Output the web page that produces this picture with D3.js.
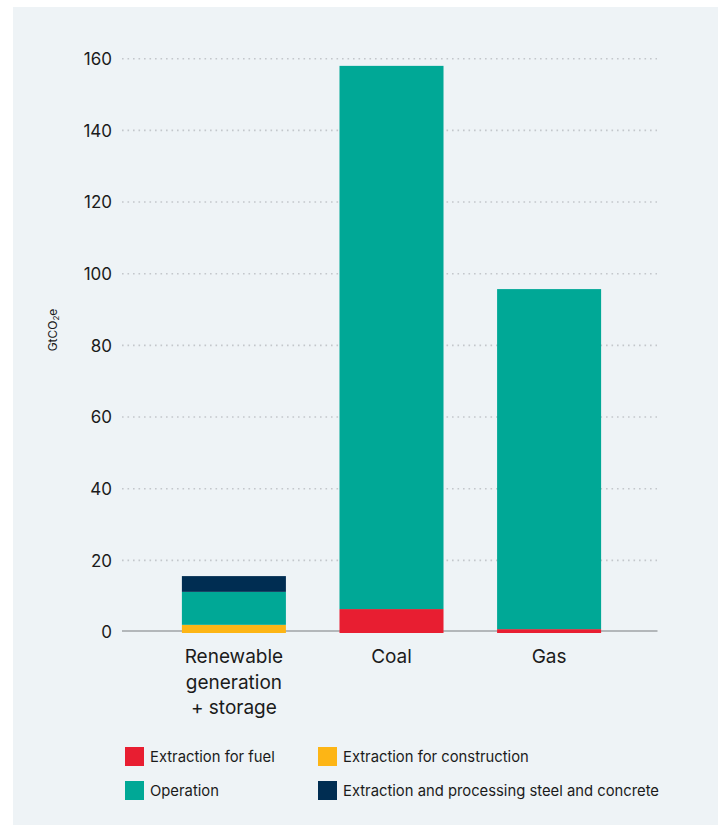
<!DOCTYPE html>
<html><head><meta charset="utf-8">
<script src="https://cdn.jsdelivr.net/npm/d3@7"></script>
<style>
html,body{margin:0;padding:0;background:#fff;}
svg{display:block;}
text{font-family:Inter, "Noto Sans", sans-serif;fill:#1b1b1b;}
</style></head><body>
<svg id="c" width="718" height="825"></svg>
<script>
const categories = ["Renewable generation + storage", "Coal", "Gas"];
const categoryLines = [["Renewable", "generation", "+ storage"], ["Coal"], ["Gas"]];
const seriesNames = ["Extraction for fuel", "Extraction for construction", "Operation", "Extraction and processing steel and concrete"];
const extractionFuel = [0, 6.4, 0.8];
const extractionConstruction = [2.0, 0, 0];
const operation = [9.2, 151.6, 94.9];
const steelConcrete = [4.4, 0, 0];
const yTicks = [0, 20, 40, 60, 80, 100, 120, 140, 160];
const colors = ["#e81e31", "#fdb515", "#00a896", "#002d52"];

const svg = d3.select("#c");
svg.append("rect").attr("x", 13).attr("y", 7).attr("width", 705).attr("height", 818).attr("fill", "#eef3f6");

const y = d3.scaleLinear().domain([0, 160]).range([632, 58.7]);
const x = d3.scaleBand().domain(categories).range([122, 661]).paddingInner(0.34).paddingOuter(0.38);

// gridlines
const grid = svg.append("g");
grid.selectAll("line").data(yTicks.filter(d => d > 0)).join("line")
  .attr("x1", 122).attr("x2", 657).attr("y1", d => y(d)).attr("y2", d => y(d))
  .attr("stroke", "#c3c7cb").attr("stroke-width", 1.6).attr("stroke-dasharray", "1.6,3.9").attr("stroke-linecap", "butt");

// y axis labels
const yAxis = d3.axisLeft(y).tickValues(yTicks).tickSize(0).tickPadding(0).tickFormat(d3.format("d"));
const ga = svg.append("g").attr("transform", "translate(112,0)").call(yAxis);
ga.select(".domain").remove();
ga.selectAll("text").attr("font-size", 17).attr("font-family", "Inter, sans-serif").attr("fill", "#1b1b1b").attr("dy", "0.35em");

// stacked data
const table = categories.map((c, i) => ({cat: c, s0: extractionFuel[i], s1: extractionConstruction[i], s2: operation[i], s3: steelConcrete[i]}));
const stack = d3.stack().keys(["s1", "s0", "s2", "s3"]);
const layers = stack(table);
const colorByKey = {s0: colors[0], s1: colors[1], s2: colors[2], s3: colors[3]};

// baseline
svg.append("line").attr("x1", 122).attr("x2", 657.5).attr("y1", 631).attr("y2", 631)
  .attr("stroke", "#b3b7ba").attr("stroke-width", 2.2);

svg.append("g").selectAll("g").data(layers).join("g")
  .attr("fill", d => colorByKey[d.key])
  .selectAll("rect").data(d => d.filter(p => p[1] - p[0] > 0)).join("rect")
  .attr("x", d => x(d.data.cat)).attr("width", x.bandwidth())
  .attr("y", d => y(d[1])).attr("height", d => y(d[0]) - y(d[1]) + (d[0] === 0 ? 1 : 0));

// x labels
const xl = svg.append("g");
categories.forEach((c, i) => {
  const t = xl.append("text").attr("text-anchor", "middle").attr("font-size", 19)
    .attr("x", x(c) + x.bandwidth() / 2).attr("y", 663);
  categoryLines[i].forEach((ln, j) => {
    t.append("tspan").attr("x", x(c) + x.bandwidth() / 2).attr("y", 663 + j * 25.5).text(ln);
  });
});

// y title
const yt = svg.append("text").attr("transform", "translate(57,330) rotate(-90)").attr("text-anchor", "middle").attr("font-size", 12);
yt.append("tspan").text("GtCO");
yt.append("tspan").attr("font-size", 8).attr("dy", 2).text("2");
yt.append("tspan").attr("dy", -2).text("e");

// legend
const legendPos = [[125, 747], [318, 747], [125, 781], [318, 781]];
const lg = svg.append("g");
seriesNames.forEach((n, i) => {
  const [lx, ly] = legendPos[i];
  lg.append("rect").attr("x", lx).attr("y", ly).attr("width", 19).attr("height", 19).attr("fill", colors[i]);
  lg.append("text").attr("x", lx + 25).attr("y", ly + 14.5).attr("font-size", 14.8).text(n);
});
</script>
</body></html>
